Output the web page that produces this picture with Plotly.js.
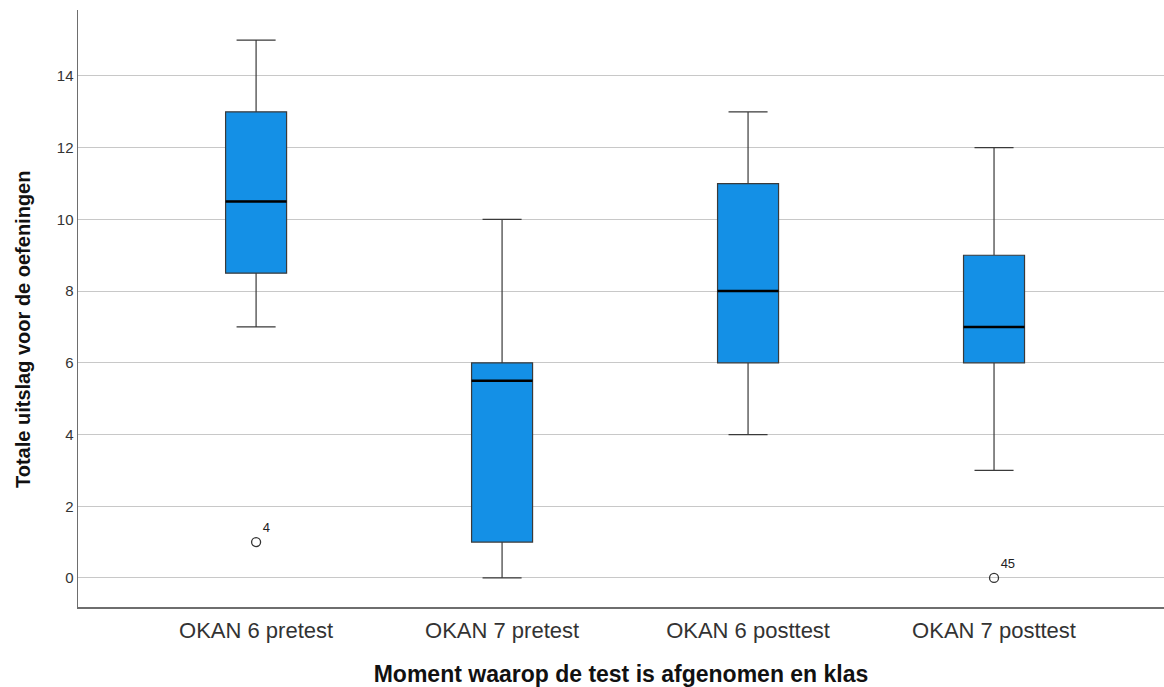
<!DOCTYPE html>
<html><head><meta charset="utf-8">
<script src="https://cdn.plot.ly/plotly-3.0.1.min.js"></script>
<style>html,body{margin:0;padding:0;background:#fff}#c{width:1164px;height:687px}</style>
</head><body><div id="c"></div>
<script>
const categories = ["OKAN 6 pretest", "OKAN 7 pretest", "OKAN 6 posttest", "OKAN 7 posttest"];
const lowerWhisker = [7, 0, 4, 3];
const q1 = [8.5, 1, 6, 6];
const median = [10.5, 5.5, 8, 7];
const q3 = [13, 6, 11, 9];
const upperWhisker = [15, 10, 13, 12];
const outlierGroup = [0, 3];
const outlierValue = [1, 0];
const outlierLabel = ["4", "45"];
const yTicks = [0, 2, 4, 6, 8, 10, 12, 14];

const idx = categories.map((_, i) => i);
const boxW = 0.248;
const traces = [{
  type: 'box', x: idx, q1: q1, median: median, q3: q3,
  lowerfence: lowerWhisker, upperfence: upperWhisker,
  width: boxW, whiskerwidth: 0.64,
  fillcolor: '#1490e6', line: {color: '#3a3a3a', width: 1.2},
  boxpoints: false, hoverinfo: 'skip', showlegend: false
}];
idx.forEach(i => {
  traces.push({type: 'scatter', mode: 'lines', x: [i - boxW/2, i + boxW/2], y: [median[i], median[i]],
    line: {color: '#000', width: 2.5}, showlegend: false, hoverinfo: 'skip'});
});
traces.push({
  type: 'scatter', mode: 'markers+text', x: outlierGroup, y: outlierValue,
  text: outlierLabel, textposition: 'top right',
  textfont: {family: 'Liberation Sans, Arial', size: 13, color: '#222'},
  marker: {symbol: 'circle-open', size: 9, color: '#333', line: {width: 1.3, color: '#333'}},
  showlegend: false, hoverinfo: 'skip', cliponaxis: false
});

const layout = {
  width: 1164, height: 687,
  margin: {l: 78, r: 0, t: 10, b: 80},
  paper_bgcolor: '#fff', plot_bgcolor: '#fff',
  font: {family: 'Liberation Sans, Arial', color: '#222'},
  xaxis: {
    range: [-0.724, 3.691], tickvals: idx, ticktext: categories,
    showgrid: false, zeroline: false, showline: true, linecolor: '#6e6e6e', linewidth: 1.5,
    ticks: '', tickfont: {size: 22, color: '#333'}, ticklabelstandoff: 3,
    title: {text: '<b>Moment waarop de test is afgenomen en klas</b>', font: {size: 23, color: '#111'}, standoff: 28}
  },
  yaxis: {
    range: [-0.81, 15.84], tickvals: yTicks,
    showgrid: true, gridcolor: '#c8c8c8', gridwidth: 1, zeroline: false,
    showline: true, linecolor: '#6e6e6e', linewidth: 1.5,
    ticks: '', ticklen: 0, tickfont: {size: 15, color: '#333'}
  },
  annotations: [{
    text: '<b>Totale uitslag voor de oefeningen</b>', textangle: -90, showarrow: false,
    xref: 'paper', x: 0, xanchor: 'center', xshift: -55,
    yref: 'paper', y: 0.464, yanchor: 'middle',
    font: {size: 20, color: '#111'}
  }]
};
Plotly.newPlot('c', traces, layout, {displayModeBar: false, staticPlot: true});
</script></body></html>
